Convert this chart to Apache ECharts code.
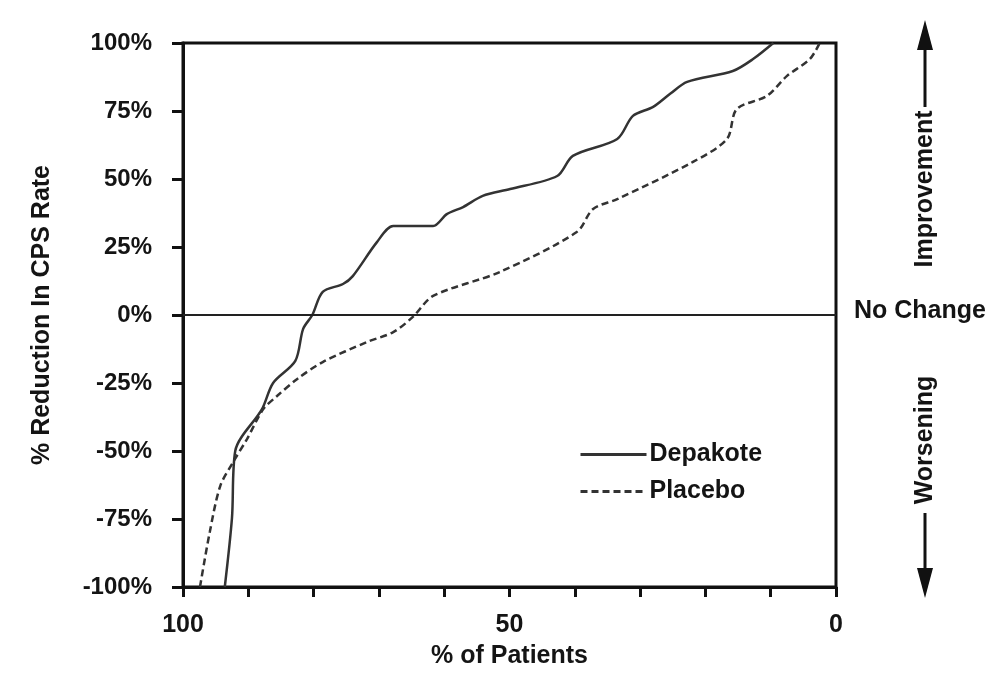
<!DOCTYPE html>
<html><head><meta charset="utf-8">
<script src="https://cdn.jsdelivr.net/npm/echarts@6/dist/echarts.min.js"></script>
<style>html,body{margin:0;padding:0;background:#fff}#c{width:994px;height:675px}</style>
</head><body><div id="c"></div>
<script>
const depakote = [
  [93.6,-100],[92.5,-74.6],[92.0,-50],[87.9,-34.6],[86.2,-25],[82.8,-16.9],[81.6,-5.1],[80.2,0],
  [78.6,8.5],[75.5,11.4],[74.0,14.3],[70.3,26.8],[67.8,32.7],[61.7,32.7],[59.6,37.1],[57.1,39.7],
  [54.1,43.8],[49.9,46.3],[42.7,51.1],[40.3,58.5],[33.5,64.7],[31.1,73.2],[28.0,76.5],[25.4,81.3],
  [22.8,85.7],[15.8,89.7],[12.7,94.1],[9.6,100]
];
const placebo = [
  [97.4,-100],[95.9,-79.8],[94.3,-62.9],[92.3,-54],[90.2,-45.6],[87.7,-34.6],[85.6,-29.8],[82.5,-23.5],
  [78.6,-17.3],[71.8,-9.9],[67.8,-6.3],[64.8,-0.7],[61.7,7],[51.5,15.8],[39.7,30.5],[37.2,39],
  [33.5,42.6],[21.9,56.3],[16.7,64.7],[15.2,75.7],[10.6,80.5],[7.5,87.9],[4.0,94.1],[2.5,100]
];
const xLabels = [100, 50, 0];
const yTicks = [-100,-75,-50,-25,0,25,50,75,100];
const seriesNames = ['Depakote','Placebo'];
const sideLabels = ['Improvement','No Change','Worsening'];

const FONT = 'Liberation Sans, Arial, sans-serif';
const TXT = '#141414';
const chart = echarts.init(document.getElementById('c'));
chart.setOption({
  backgroundColor:'#fff',
  animation:false,
  grid:{left:183,right:158,top:43,bottom:88,show:true,borderColor:'#111',borderWidth:3,backgroundColor:'transparent'},
  legend:{
    data:seriesNames, orient:'vertical', left:574, top:437, itemWidth:66, itemHeight:26, itemGap:12,
    itemStyle:{opacity:0,borderWidth:0},
    lineStyle:{width:3},
    textStyle:{fontFamily:FONT,fontWeight:'bold',fontSize:25,color:TXT,padding:[0,0,0,-2]}
  },
  xAxis:{
    type:'value', inverse:true, min:0, max:100, interval:10,
    axisLine:{show:true,onZero:false,lineStyle:{color:'#111',width:3}},
    axisTick:{show:true,length:10,lineStyle:{color:'#111',width:3}},
    splitLine:{show:false},
    axisLabel:{fontFamily:FONT,fontWeight:'bold',fontSize:25,color:TXT,margin:26,
      formatter:v=>xLabels.includes(v)?String(v):''},
    name:'% of Patients', nameLocation:'middle', nameGap:57,
    nameTextStyle:{fontFamily:FONT,fontWeight:'bold',fontSize:25,color:TXT,verticalAlign:'top'}
  },
  yAxis:{
    type:'value', min:-100, max:100, interval:25,
    axisLine:{show:true,onZero:false,lineStyle:{color:'#111',width:3}},
    axisTick:{show:true,length:11,lineStyle:{color:'#111',width:3}},
    splitLine:{show:false},
    axisLabel:{fontFamily:FONT,fontWeight:'bold',fontSize:24,color:TXT,margin:31,
      formatter:v=>yTicks.includes(v)?v+'%':''},
    name:'% Reduction In CPS Rate', nameLocation:'middle', nameGap:128, nameRotate:90,
    nameTextStyle:{fontFamily:FONT,fontWeight:'bold',fontSize:25,color:TXT}
  },
  series:[
    {name:seriesNames[0], type:'line', data:depakote, smooth:0.3, symbol:'none',
      lineStyle:{color:'#333',width:2.5,type:'solid'}, itemStyle:{color:'#333'},
      markLine:{silent:true,symbol:['none','none'],label:{show:false},
        lineStyle:{color:'#222',width:1.8,type:'solid'},data:[{yAxis:0}]}},
    {name:seriesNames[1], type:'line', data:placebo, smooth:0.3, symbol:'none',
      lineStyle:{color:'#333',width:2.5,type:[7,4]}, itemStyle:{color:'#333'}}
  ],
  graphic:[
    {type:'text', left:854, top:299, style:{text:sideLabels[1],font:'bold 25px '+FONT,fill:TXT}},
    {type:'text', x:925, y:189, rotation:Math.PI/2, style:{text:sideLabels[0],font:'bold 25px '+FONT,fill:TXT,align:'center',verticalAlign:'middle'}},
    {type:'text', x:925, y:440, rotation:Math.PI/2, style:{text:sideLabels[2],font:'bold 25px '+FONT,fill:TXT,align:'center',verticalAlign:'middle'}},
    {type:'line', shape:{x1:925,y1:45,x2:925,y2:107}, style:{stroke:'#111',lineWidth:3}},
    {type:'polygon', shape:{points:[[925,20],[917,50],[933,50]]}, style:{fill:'#111'}},
    {type:'line', shape:{x1:925,y1:513,x2:925,y2:572}, style:{stroke:'#111',lineWidth:3}},
    {type:'polygon', shape:{points:[[925,598],[917,568],[933,568]]}, style:{fill:'#111'}}
  ]
});
</script></body></html>
